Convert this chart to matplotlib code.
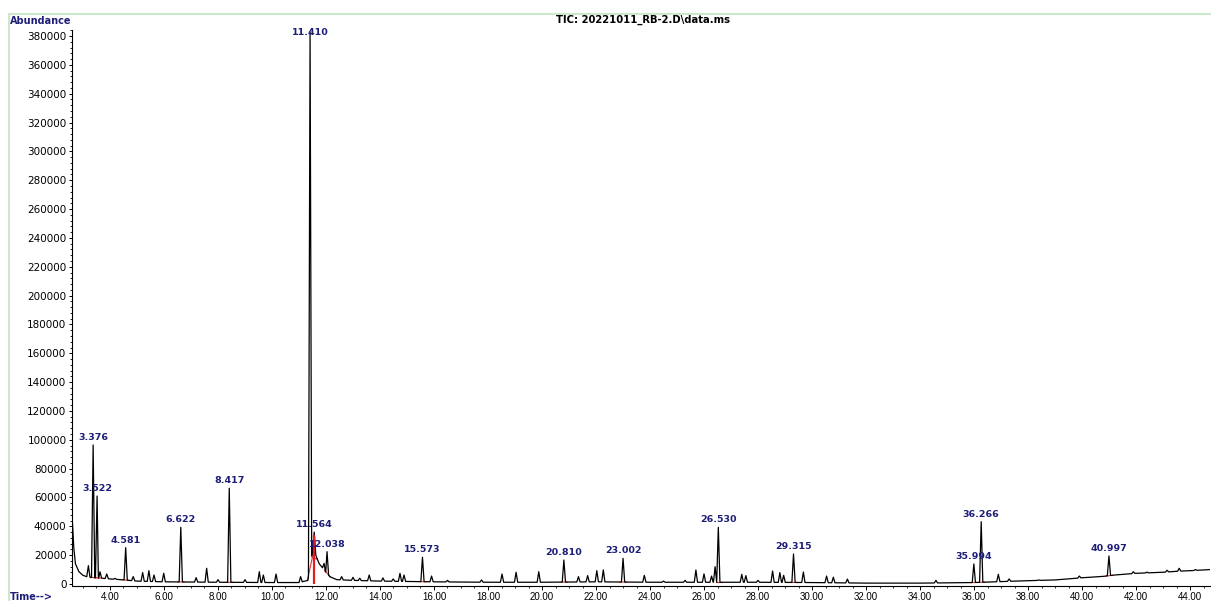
import numpy as np
import matplotlib
matplotlib.use("Agg")
import matplotlib.pyplot as plt
from matplotlib.ticker import MultipleLocator, FormatStrFormatter
from matplotlib.lines import Line2D

# baseline (drift), minutes / abundance
base_t = [2.60, 2.66, 2.72, 2.85, 3.0, 3.15, 3.3, 3.7, 4.0, 4.4, 5.0, 6.0, 8.0, 10.0,
          11.0, 11.33, 11.49, 11.62, 11.75, 11.88, 12.0, 12.15, 12.4, 13.0, 14.0, 16.0,
          18.0, 20.0, 22.0, 24.0, 26.0, 28.0, 30.0, 32.0, 34.0, 36.0, 38.0, 39.0, 40.0,
          40.8, 41.2, 42.0, 43.0, 43.5, 44.0, 44.75]
base_y = [46000, 25000, 14000, 8500, 6000, 5000, 4500, 4000, 3500, 3000, 2000, 1500, 1200, 1000,
          1000, 2500, 22000, 20000, 14000, 11000, 8000, 5000, 3000, 2500, 2000, 1500,
          1200, 1200, 1500, 1200, 1200, 1200, 1000, 600, 600, 1000, 2300, 2800, 4300,
          5300, 6200, 7400, 8100, 8800, 9200, 10000]

# peak apexes (retention time, abundance)
peak_rt = [3.20, 3.376, 3.522, 3.63, 3.88, 4.19, 4.581, 4.86, 5.21, 5.44, 5.63, 5.99, 6.622,
           7.19, 7.58, 8.00, 8.417, 9.00, 9.53, 9.68, 10.15, 11.06, 11.410, 11.564, 11.93,
           12.038, 12.58, 13.00, 13.25, 13.60, 14.11, 14.49, 14.74, 14.89, 15.573, 15.91,
           16.50, 17.76, 18.52, 19.04, 19.88, 20.810, 21.35, 21.69, 22.03, 22.27, 23.002,
           23.79, 24.50, 25.30, 25.70, 26.00, 26.28, 26.41, 26.530, 27.40, 27.55, 28.00,
           28.54, 28.81, 28.95, 29.315, 29.68, 30.54, 30.79, 31.31, 34.59, 35.994, 36.266,
           36.90, 37.30, 38.40, 39.90, 40.997, 41.90, 42.40, 43.15, 43.60, 44.20]
peak_top = [12700, 96400, 61000, 8500, 6900, 3900, 25200, 5100, 7900, 9200, 6200, 7400, 39300,
            4400, 10900, 3000, 66400, 3000, 8500, 6200, 6900, 5100, 383000, 36000, 14300,
            22400, 5100, 4600, 4000, 6200, 4200, 3500, 7400, 6200, 18500, 5500,
            2500, 2800, 6900, 8100, 8500, 16600, 5100, 5800, 9200, 9700, 17800,
            6000, 2000, 2500, 9700, 7000, 5500, 12000, 39300, 6700, 5800, 2500,
            9000, 7900, 6000, 20800, 8300, 5500, 4700, 3400, 2500, 13900, 43200,
            6700, 3500, 2800, 5500, 19400, 8500, 8200, 9500, 10900, 10000]

# integrated / labelled peaks
label_rt = [3.376, 3.522, 4.581, 6.622, 8.417, 11.410, 11.564, 12.038, 15.573, 20.810,
            23.002, 26.530, 29.315, 35.994, 36.266, 40.997]
drop_t = [11.55]
drop_top = [34000]

title = "TIC: 20221011_RB-2.D\\data.ms"

# build the trace: baseline knots + triangular peaks
hw = 0.06
pts = []
for rt, top in zip(peak_rt, peak_top):
    for t in (rt - hw, rt + hw):
        pts.append((t, np.interp(t, base_t, base_y)))
    pts.append((rt, top))
for t, y in zip(base_t, base_y):
    if not any(abs(t - rt) < hw for rt in peak_rt):
        pts.append((t, y))
pts.sort()
trace_t = [p[0] for p in pts]
trace_y = [p[1] for p in pts]

fig = plt.figure(figsize=(12.11, 6.01), dpi=100)
ax = fig.add_axes([72 / 1211, 15 / 601, 1138 / 1211, 556 / 601])

ax.plot(trace_t, trace_y, color="black", lw=0.9, zorder=3)

# red integration baselines + drop line
for rt in label_rt:
    t0, t1 = rt - 0.1, rt + 0.12
    ax.plot([t0, t1], [np.interp(t0, base_t, base_y), np.interp(t1, base_t, base_y)],
            color="#e03030", lw=0.8, zorder=2)
ax.vlines(drop_t, 0, drop_top, color="#e02020", lw=1.6, zorder=4)

apex = dict(zip(peak_rt, peak_top))
for rt in label_rt:
    ax.annotate(f"{rt:.3f}", xy=(rt, min(apex[rt], 377000)), xytext=(0, 5.4),
                textcoords="offset points", ha="center", va="center",
                fontsize=6.8, fontweight="bold", color="#1e1e78",
                family="DejaVu Sans", zorder=5, annotation_clip=False)

ax.set_xlim(2.593, 44.74)
ax.set_ylim(-1400, 384200)

ax.spines["top"].set_visible(False)
ax.spines["right"].set_visible(False)
ax.spines["left"].set_linewidth(0.8)
ax.spines["bottom"].set_linewidth(0.8)

ax.xaxis.set_minor_locator(MultipleLocator(0.5))
ax.xaxis.set_major_formatter(FormatStrFormatter("%.2f"))
ax.set_xticks(np.arange(4, 44.01, 2))
ax.yaxis.set_minor_locator(MultipleLocator(4000))
ax.set_yticks(np.arange(0, 380001, 20000))
ax.yaxis.set_major_formatter(FormatStrFormatter("%d"))

ax.tick_params(axis="x", which="major", length=3, width=0.7, pad=1.5, labelsize=7)
ax.tick_params(axis="x", which="minor", length=1.5, width=0.6)
ax.tick_params(axis="y", which="major", length=2.5, width=0.7, pad=1.5, labelsize=7.5)
ax.tick_params(axis="y", which="minor", length=1.3, width=0.6)
for lab in ax.get_xticklabels():
    lab.set_family("Liberation Sans")
for lab in ax.get_yticklabels():
    lab.set_family("DejaVu Sans")

# light green frame
fig.add_artist(Line2D([9 / 1211, 1], [1 - 14 / 601, 1 - 14 / 601], color="#cce8cc", lw=1.5))
fig.add_artist(Line2D([9 / 1211, 9 / 1211], [0, 1 - 14 / 601], color="#cce8cc", lw=1.5))

fig.text(10 / 1211, 1 - 20.5 / 601, "Abundance", ha="left", va="center",
         fontsize=7, fontweight="bold", color="#1e1e78", family="DejaVu Sans")
fig.text(10 / 1211, 1 - 597 / 601, "Time-->", ha="left", va="center",
         fontsize=7, fontweight="bold", color="#1e1e78", family="DejaVu Sans")
fig.text(643 / 1211, 1 - 20 / 601, title, ha="center", va="center",
         fontsize=7.2, fontweight="bold", color="black", family="DejaVu Sans")

fig.savefig("out.png", dpi=100)
